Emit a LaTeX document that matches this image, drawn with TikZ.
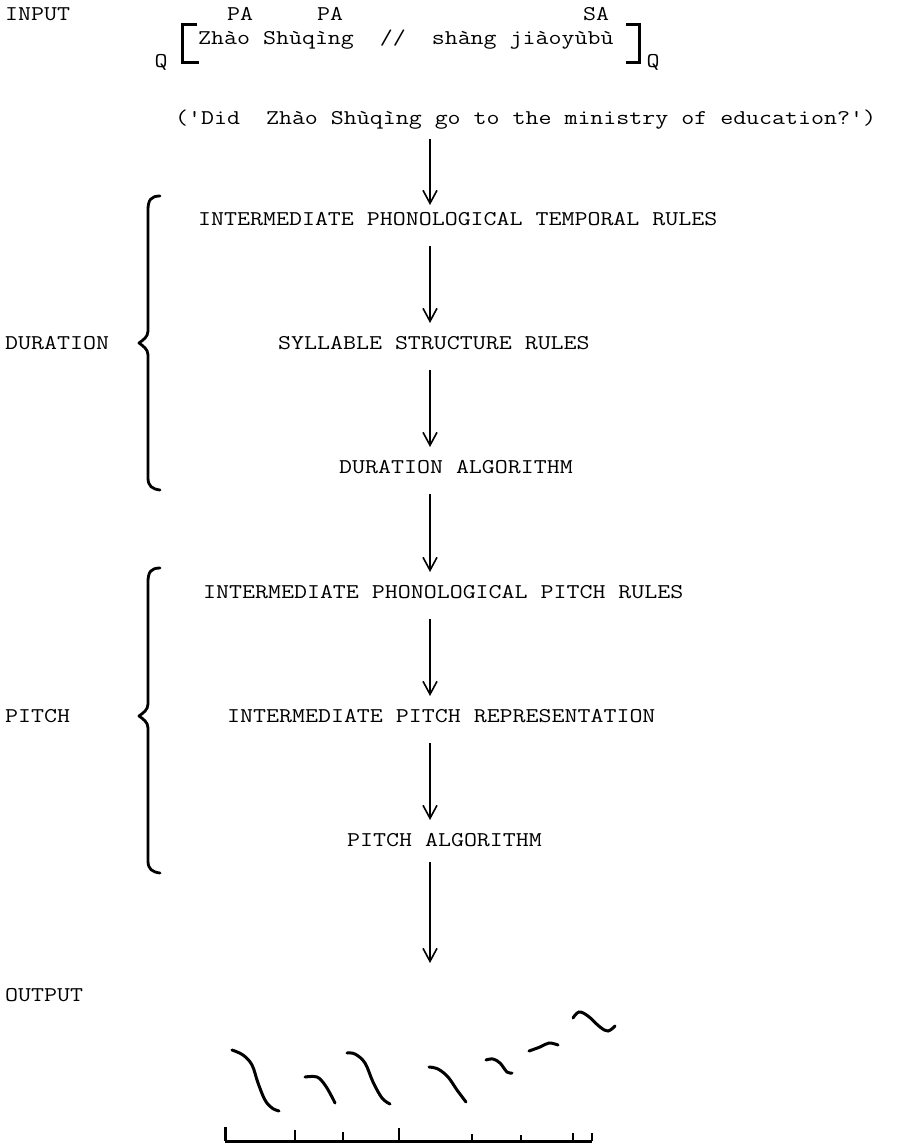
\documentclass[tikz,border=0pt]{standalone}
\usepackage{fontspec}
\setmonofont{Latin Modern Mono}[FakeStretch=1.2]
\usetikzlibrary{arrows.meta}
\begin{document}
\begin{tikzpicture}[x=1pt,y=-1pt,
  txt/.style={font=\ttfamily\fontsize{21}{25}\selectfont, inner sep=0pt},
  arr/.style={line width=1.6pt, -{Straight Barb[length=13pt,width=14pt,line width=1.6pt]}},
  brace/.style={line width=2.8pt, line cap=round, line join=round},
  brk/.style={line width=3pt},
  contour/.style={line width=3pt, line cap=round},
  axisline/.style={line width=3pt}]
\useasboundingbox (0,0) rectangle (906,1145);

% input
\node[txt, anchor=west] (input) at (5,14) {INPUT};
\node[txt] (pa1) at (240,14) {PA};
\node[txt] (pa2) at (330,14) {PA};
\node[txt] (sa) at (596,14) {SA};
\node[txt] (ql) at (161,62) {Q};
\node[txt, anchor=west] (zh) at (198,40) {Zhào Shùqìng~~//~~shàng jiàoyùbù};
\node[txt] (qr) at (653,62) {Q};
\draw[brk] (197,25) -- (182,25) -- (182,63) -- (199,63);
\draw[brk] (626,25) -- (639,25) -- (639,63) -- (626,63);
\node[txt, anchor=west] (gloss) at (175,120) {('Did~~Zhào Shùqìng go to the ministry of education?')};

% steps
\node[txt, anchor=west] (temporal) at (198,219) {INTERMEDIATE PHONOLOGICAL TEMPORAL RULES};
\node[txt, anchor=west] (syll) at (278,343) {SYLLABLE STRUCTURE RULES};
\node[txt, anchor=west] (duralg) at (339,467) {DURATION ALGORITHM};
\node[txt, anchor=west] (pitchrules) at (203,592) {INTERMEDIATE PHONOLOGICAL PITCH RULES};
\node[txt, anchor=west] (rep) at (227,716) {INTERMEDIATE PITCH REPRESENTATION};
\node[txt, anchor=west] (pitchalg) at (347,840) {PITCH ALGORITHM};

% labels
\node[txt, anchor=west] (duration) at (5,343) {DURATION};
\node[txt, anchor=west] (pitch) at (5,716) {PITCH};
\node[txt, anchor=west] (output) at (5,995) {OUTPUT};

% arrow coordinates
\coordinate (a1s) at (430,139); \coordinate (a1e) at (430,205);
\coordinate (a2s) at (430,246); \coordinate (a2e) at (430,323);
\coordinate (a3s) at (430,370); \coordinate (a3e) at (430,447);
\coordinate (a4s) at (430,494); \coordinate (a4e) at (430,572);
\coordinate (a5s) at (430,619); \coordinate (a5e) at (430,696);
\coordinate (a6s) at (430,743); \coordinate (a6e) at (430,820);
\coordinate (a7s) at (430,862); \coordinate (a7e) at (430,963);
\draw[arr] (a1s) -- (a1e);
\draw[arr] (a2s) -- (a2e);
\draw[arr] (a3s) -- (a3e);
\draw[arr] (a4s) -- (a4e);
\draw[arr] (a5s) -- (a5e);
\draw[arr] (a6s) -- (a6e);
\draw[arr] (a7s) -- (a7e);

% braces
\draw[brace] (160,196) .. controls (151,196) and (148,200) .. (148,210) -- (148,331)
  .. controls (148,337) and (143,340) .. (139,343) .. controls (143,346) and (148,349) .. (148,355)
  -- (148,478) .. controls (148,486) and (152,489) .. (160,490);
\draw[brace] (160,568) .. controls (151,568) and (148,572) .. (148,582) -- (148,704)
  .. controls (148,710) and (143,713) .. (139,716) .. controls (143,719) and (148,722) .. (148,728)
  -- (148,861) .. controls (148,869) and (152,872) .. (160,873);

% pitch contours
\draw[contour] plot[smooth, tension=0.6] coordinates {(232,1050) (243,1055) (252,1065) (258,1083) (265,1100) (272,1108) (279,1111)};
\draw[contour] plot[smooth, tension=0.6] coordinates {(305,1077) (317,1077) (325,1085) (332,1097) (335,1103)};
\draw[contour] plot[smooth, tension=0.6] coordinates {(347,1053) (355,1054) (365,1063) (373,1082) (382,1098) (390,1104)};
\draw[contour] plot[smooth, tension=0.6] coordinates {(429,1067) (438,1069) (448,1077) (457,1090) (466,1102)};
\draw[contour] plot[smooth, tension=0.6] coordinates {(486,1060) (493,1059) (500,1063) (507,1072) (512,1073)};
\draw[contour] plot[smooth, tension=0.6] coordinates {(529,1051) (540,1047) (549,1043) (558,1045)};
\draw[contour] plot[smooth, tension=0.6] coordinates {(573,1018) (579,1012) (588,1016) (600,1027) (608,1031) (615,1026)};

% time axis
\draw[axisline] (225,1141) -- (592,1141);
\draw[line width=3pt] (225,1141) -- (225,1127);
\draw[line width=2pt] (295,1141) -- (295,1130);
\draw[line width=2pt] (343,1141) -- (343,1132);
\draw[line width=2pt] (399,1141) -- (399,1128);
\draw[line width=2pt] (472,1141) -- (472,1134);
\draw[line width=2pt] (521,1141) -- (521,1135);
\draw[line width=2pt] (573,1141) -- (573,1133);
\draw[line width=2pt] (592,1141) -- (592,1133);
\end{tikzpicture}
\end{document}
